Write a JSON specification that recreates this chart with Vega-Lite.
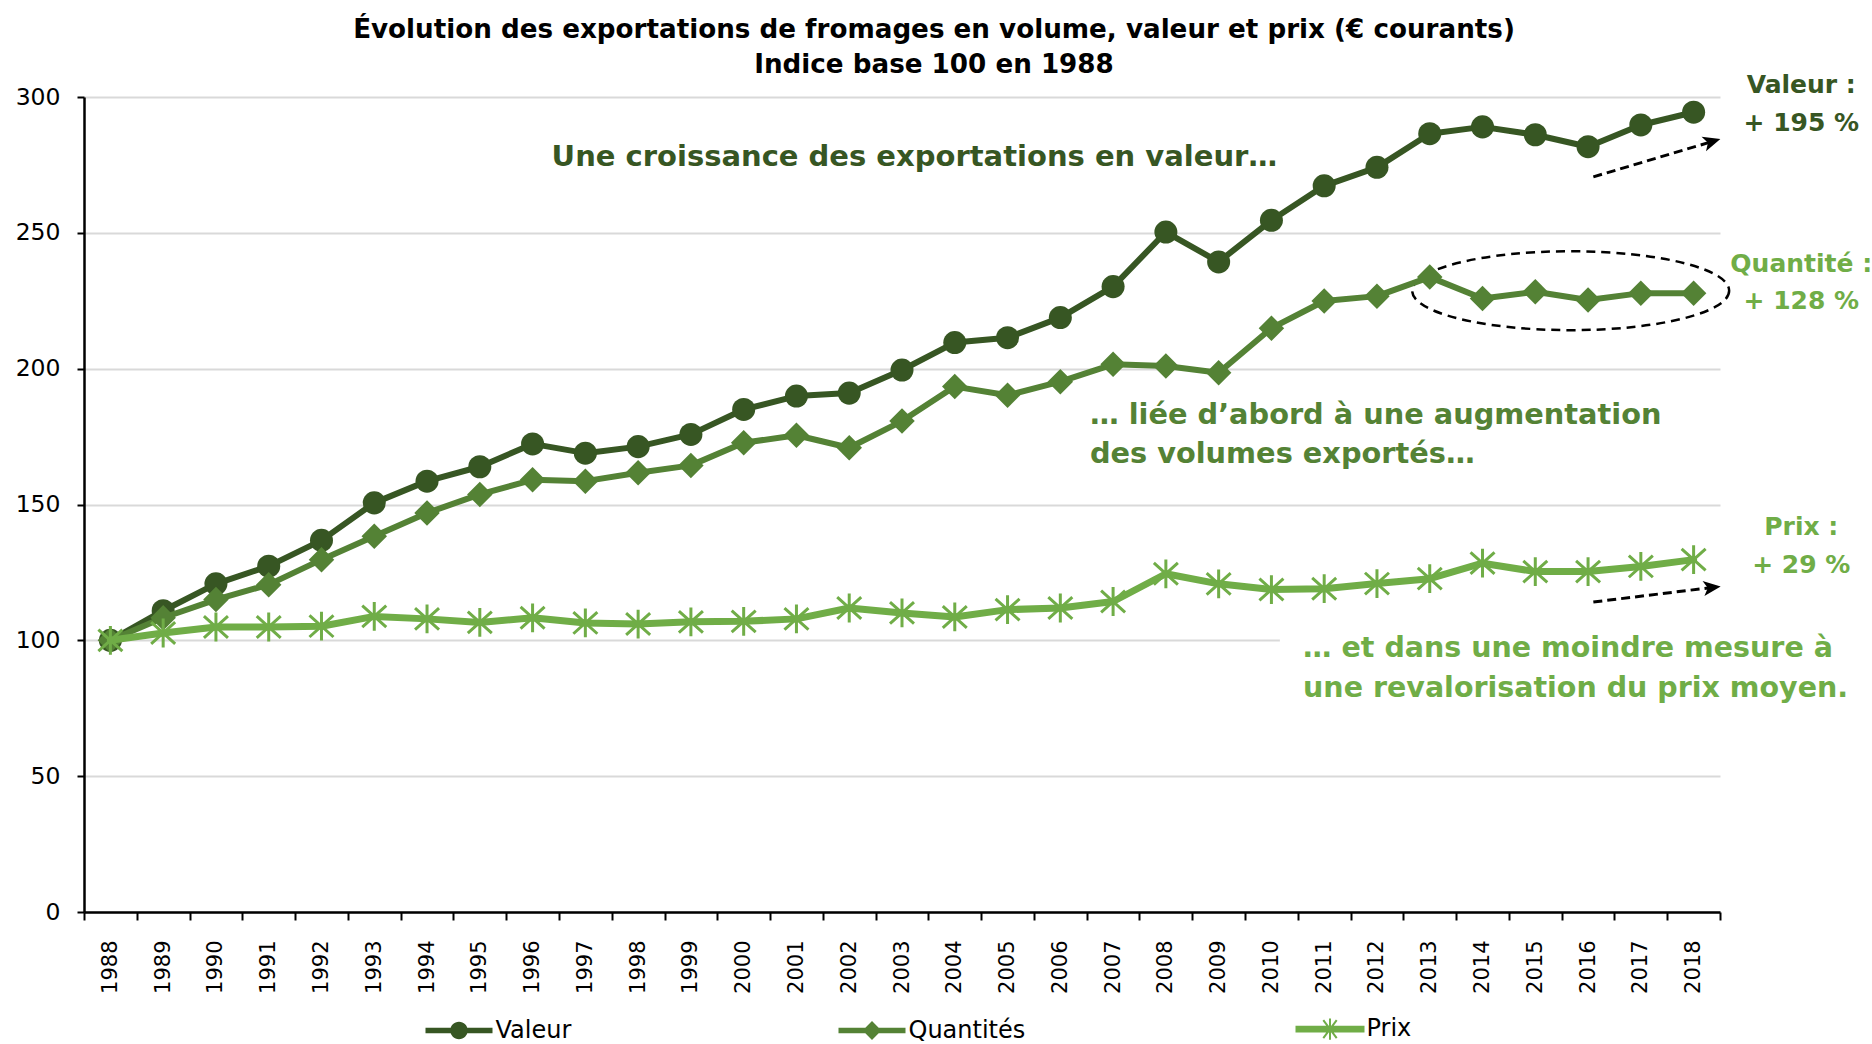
{
  "$schema": "https://vega.github.io/schema/vega-lite/v6.json",
  "width": 1636,
  "height": 815,
  "autosize": {"type": "none"},
  "padding": {"left": 84, "top": 97, "right": 152, "bottom": 132},
  "background": "white",
  "config": {
    "view": {"stroke": null},
    "font": "DejaVu Sans",
    "axisX": {"tickBand": "extent", "grid": false, "domainColor": "#000000", "domainWidth": 2.5, "tickColor": "#000000", "tickWidth": 2, "tickSize": 8, "labelAngle": 270, "labelFont": "DejaVu Sans", "labelFontSize": 21, "labelColor": "#000000", "labelPadding": 20, "title": null},
    "axisY": {"grid": true, "gridColor": "#D9D9D9", "gridWidth": 2, "domainColor": "#000000", "domainWidth": 2.5, "tickColor": "#000000", "tickWidth": 2, "tickSize": 7, "labelFont": "DejaVu Sans", "labelFontSize": 23.5, "labelColor": "#000000", "labelPadding": 17, "title": null}
  },
  "title": {
    "text": ["Évolution des exportations de fromages en volume, valeur et prix (€ courants)", "Indice base 100 en 1988"],
    "font": "DejaVu Sans", "fontSize": 26.2, "fontWeight": "bold", "color": "#000000",
    "lineHeight": 35, "anchor": "middle", "frame": "group", "dx": 32, "offset": -5
  },
  "datasets": {
    "series": [
      {"annee": 1988, "serie": "Valeur", "v": 100}, {"annee": 1989, "serie": "Valeur", "v": 110.9}, {"annee": 1990, "serie": "Valeur", "v": 120.8}, {"annee": 1991, "serie": "Valeur", "v": 127.3}, {"annee": 1992, "serie": "Valeur", "v": 136.8}, {"annee": 1993, "serie": "Valeur", "v": 150.6}, {"annee": 1994, "serie": "Valeur", "v": 158.6}, {"annee": 1995, "serie": "Valeur", "v": 163.9}, {"annee": 1996, "serie": "Valeur", "v": 172.3}, {"annee": 1997, "serie": "Valeur", "v": 168.9}, {"annee": 1998, "serie": "Valeur", "v": 171.3}, {"annee": 1999, "serie": "Valeur", "v": 175.8}, {"annee": 2000, "serie": "Valeur", "v": 185}, {"annee": 2001, "serie": "Valeur", "v": 189.9}, {"annee": 2002, "serie": "Valeur", "v": 191}, {"annee": 2003, "serie": "Valeur", "v": 199.5}, {"annee": 2004, "serie": "Valeur", "v": 209.6}, {"annee": 2005, "serie": "Valeur", "v": 211.4}, {"annee": 2006, "serie": "Valeur", "v": 218.8}, {"annee": 2007, "serie": "Valeur", "v": 230.2}, {"annee": 2008, "serie": "Valeur", "v": 250.3}, {"annee": 2009, "serie": "Valeur", "v": 239.3}, {"annee": 2010, "serie": "Valeur", "v": 254.6}, {"annee": 2011, "serie": "Valeur", "v": 267.3}, {"annee": 2012, "serie": "Valeur", "v": 274.1}, {"annee": 2013, "serie": "Valeur", "v": 286.5}, {"annee": 2014, "serie": "Valeur", "v": 289}, {"annee": 2015, "serie": "Valeur", "v": 286.1}, {"annee": 2016, "serie": "Valeur", "v": 281.7}, {"annee": 2017, "serie": "Valeur", "v": 289.7}, {"annee": 2018, "serie": "Valeur", "v": 294.4},
      {"annee": 1988, "serie": "Quantités", "v": 100}, {"annee": 1989, "serie": "Quantités", "v": 108.3}, {"annee": 1990, "serie": "Quantités", "v": 115}, {"annee": 1991, "serie": "Quantités", "v": 120.5}, {"annee": 1992, "serie": "Quantités", "v": 129.7}, {"annee": 1993, "serie": "Quantités", "v": 138.3}, {"annee": 1994, "serie": "Quantités", "v": 146.9}, {"annee": 1995, "serie": "Quantités", "v": 153.7}, {"annee": 1996, "serie": "Quantités", "v": 159.1}, {"annee": 1997, "serie": "Quantités", "v": 158.6}, {"annee": 1998, "serie": "Quantités", "v": 161.7}, {"annee": 1999, "serie": "Quantités", "v": 164.4}, {"annee": 2000, "serie": "Quantités", "v": 172.7}, {"annee": 2001, "serie": "Quantités", "v": 175.5}, {"annee": 2002, "serie": "Quantités", "v": 170.9}, {"annee": 2003, "serie": "Quantités", "v": 180.7}, {"annee": 2004, "serie": "Quantités", "v": 193.4}, {"annee": 2005, "serie": "Quantités", "v": 190.2}, {"annee": 2006, "serie": "Quantités", "v": 195.2}, {"annee": 2007, "serie": "Quantités", "v": 201.6}, {"annee": 2008, "serie": "Quantités", "v": 201}, {"annee": 2009, "serie": "Quantités", "v": 198.5}, {"annee": 2010, "serie": "Quantités", "v": 214.9}, {"annee": 2011, "serie": "Quantités", "v": 224.9}, {"annee": 2012, "serie": "Quantités", "v": 226.7}, {"annee": 2013, "serie": "Quantités", "v": 233.7}, {"annee": 2014, "serie": "Quantités", "v": 225.8}, {"annee": 2015, "serie": "Quantités", "v": 228.3}, {"annee": 2016, "serie": "Quantités", "v": 225.3}, {"annee": 2017, "serie": "Quantités", "v": 227.8}, {"annee": 2018, "serie": "Quantités", "v": 227.8},
      {"annee": 1988, "serie": "Prix", "v": 100}, {"annee": 1989, "serie": "Prix", "v": 102.7}, {"annee": 1990, "serie": "Prix", "v": 104.9}, {"annee": 1991, "serie": "Prix", "v": 104.9}, {"annee": 1992, "serie": "Prix", "v": 105.2}, {"annee": 1993, "serie": "Prix", "v": 108.8}, {"annee": 1994, "serie": "Prix", "v": 107.9}, {"annee": 1995, "serie": "Prix", "v": 106.6}, {"annee": 1996, "serie": "Prix", "v": 108.3}, {"annee": 1997, "serie": "Prix", "v": 106.4}, {"annee": 1998, "serie": "Prix", "v": 106}, {"annee": 1999, "serie": "Prix", "v": 106.8}, {"annee": 2000, "serie": "Prix", "v": 107}, {"annee": 2001, "serie": "Prix", "v": 107.9}, {"annee": 2002, "serie": "Prix", "v": 111.9}, {"annee": 2003, "serie": "Prix", "v": 110.1}, {"annee": 2004, "serie": "Prix", "v": 108.6}, {"annee": 2005, "serie": "Prix", "v": 111.3}, {"annee": 2006, "serie": "Prix", "v": 111.9}, {"annee": 2007, "serie": "Prix", "v": 114.3}, {"annee": 2008, "serie": "Prix", "v": 124.5}, {"annee": 2009, "serie": "Prix", "v": 120.8}, {"annee": 2010, "serie": "Prix", "v": 118.7}, {"annee": 2011, "serie": "Prix", "v": 119}, {"annee": 2012, "serie": "Prix", "v": 120.9}, {"annee": 2013, "serie": "Prix", "v": 122.7}, {"annee": 2014, "serie": "Prix", "v": 128.4}, {"annee": 2015, "serie": "Prix", "v": 125.3}, {"annee": 2016, "serie": "Prix", "v": 125.3}, {"annee": 2017, "serie": "Prix", "v": 127.2}, {"annee": 2018, "serie": "Prix", "v": 129.7}
    ]
  },
  "layer": [
    {
      "encoding": {
        "x": {"field": "x", "type": "quantitative", "scale": {"domain": [1987.5, 2018.5], "nice": false, "zero": false}, "axis": null},
        "y": {"field": "v", "type": "quantitative", "scale": {"domain": [0, 300], "nice": false}, "title": null}
      },
      "layer": [
        {
          "data": {"values": [{"x": 2010.16, "x2": 2019, "v": 96, "v2": 104}]},
          "mark": {"type": "rect", "fill": "white"},
          "encoding": {"x2": {"field": "x2"}, "y2": {"field": "v2"}}
        },
        {
          "data": {"values": [{"x": 1996.36, "v": 278, "t": "Une croissance des exportations en valeur…"}]},
          "mark": {"type": "text", "align": "left", "baseline": "middle", "font": "DejaVu Sans", "fontWeight": "bold", "fontSize": 29, "color": "#375623"},
          "encoding": {"text": {"field": "t"}}
        },
        {
          "data": {"values": [{"x": 2006.56, "v": 183, "t": "… liée d’abord à une augmentation"}, {"x": 2006.56, "v": 168.5, "t": "des volumes exportés…"}]},
          "mark": {"type": "text", "align": "left", "baseline": "middle", "font": "DejaVu Sans", "fontWeight": "bold", "fontSize": 28.8, "color": "#548235"},
          "encoding": {"text": {"field": "t"}}
        },
        {
          "data": {"values": [{"x": 2010.6, "v": 97.1, "t": "… et dans une moindre mesure à"}, {"x": 2010.6, "v": 82.6, "t": "une revalorisation du prix moyen."}]},
          "mark": {"type": "text", "align": "left", "baseline": "middle", "font": "DejaVu Sans", "fontWeight": "bold", "fontSize": 28.5, "color": "#70AD47"},
          "encoding": {"text": {"field": "t"}}
        },
        {
          "data": {"values": [{"x": 2020.04, "v": 304.3, "t": "Valeur :"}, {"x": 2020.04, "v": 290.4, "t": "+ 195 %"}]},
          "mark": {"type": "text", "align": "center", "baseline": "middle", "font": "DejaVu Sans", "fontWeight": "bold", "fontSize": 25, "color": "#375623"},
          "encoding": {"text": {"field": "t"}}
        },
        {
          "data": {"values": [{"x": 2020.04, "v": 238.4, "t": "Quantité :"}, {"x": 2020.04, "v": 224.9, "t": "+ 128 %"}, {"x": 2020.04, "v": 141.9, "t": "Prix :"}, {"x": 2020.04, "v": 127.9, "t": "+ 29 %"}]},
          "mark": {"type": "text", "align": "center", "baseline": "middle", "font": "DejaVu Sans", "fontWeight": "bold", "fontSize": 25, "color": "#70AD47"},
          "encoding": {"text": {"field": "t"}}
        },
        {
          "data": {"values": [{"x": 2015.67, "v": 228.7}]},
          "mark": {"type": "point", "shape": "M1,0A1,0.249 0 1,1 -1,0A1,0.249 0 1,1 1,0Z", "size": 100489, "filled": false, "stroke": "#000000", "strokeWidth": 2.5, "strokeDash": [9, 6], "opacity": 1}
        },
        {
          "data": {"values": [{"x": 2016.1, "v": 270.6, "g": "a"}, {"x": 2018.35, "v": 283.6, "g": "a"}, {"x": 2016.1, "v": 114.1, "g": "b"}, {"x": 2018.35, "v": 119.45, "g": "b"}]},
          "mark": {"type": "line", "color": "#000000", "strokeWidth": 3, "strokeDash": [9, 5]},
          "encoding": {"detail": {"field": "g"}}
        },
        {
          "data": {"values": [{"x": 2018.35, "v": 283.6}]},
          "mark": {"type": "point", "shape": "M1,0L-1,-0.88L-0.5,0L-1,0.88Z", "size": 300, "filled": true, "color": "#000000", "opacity": 1, "angle": -17}
        },
        {
          "data": {"values": [{"x": 2018.35, "v": 119.45}]},
          "mark": {"type": "point", "shape": "M1,0L-1,-0.88L-0.5,0L-1,0.88Z", "size": 300, "filled": true, "color": "#000000", "opacity": 1, "angle": -7}
        }
      ]
    },
    {
      "data": {"name": "series"},
      "encoding": {
        "x": {"field": "annee", "type": "ordinal", "scale": {"type": "band", "paddingInner": 0, "paddingOuter": 0}, "title": null},
        "y": {"field": "v", "type": "quantitative", "scale": {"domain": [0, 300], "nice": false}, "axis": {"values": [0, 50, 100, 150, 200, 250, 300]}, "title": null}
      },
      "layer": [
        {
          "transform": [{"filter": "datum.serie === 'Valeur'"}],
          "mark": {"type": "line", "strokeWidth": 6, "strokeJoin": "round", "strokeCap": "round"},
          "encoding": {
            "color": {
              "field": "serie", "type": "nominal",
              "scale": {"domain": ["Valeur", "Quantités", "Prix"], "range": ["#375623", "#548235", "#70AD47"]},
              "legend": {
                "title": null, "orient": "none", "legendX": 363, "legendY": 920, "direction": "horizontal", "columns": 3,
                "columnPadding": 266, "padding": 0, "symbolSize": 4489, "symbolType": "circle",
                "labelFont": "DejaVu Sans", "labelFontSize": 24, "labelColor": "#000000", "labelOffset": 24.5, "labelLimit": 300,
                "encode": {
                  "symbols": {
                    "update": {
                      "shape": {"signal": "datum.value === 'Valeur' ? 'M-1,-0.08H1V0.08H-1Z M0.26,0A0.26,0.26 0 1,1 -0.26,0A0.26,0.26 0 1,1 0.26,0Z' : datum.value === 'Quantités' ? 'M-1,-0.08H1V0.08H-1Z M0,-0.28L0.28,0L0,0.28L-0.28,0Z' : 'M-1,-0.07H1V0.07H-1Z M-0.2,-0.27L0.2,0.27M0.2,-0.27L-0.2,0.27M0,-0.32V0.32'"},
                      "size": {"value": 4489},
                      "fill": {"signal": "scale('color', datum.value)"},
                      "stroke": {"signal": "scale('color', datum.value)"},
                      "strokeWidth": {"signal": "datum.value === 'Prix' ? 2 : 0"},
                      "fillOpacity": {"value": 1},
                      "opacity": {"value": 1}
                    }
                  }
                }
              }
            }
          }
        },
        {
          "transform": [{"filter": "datum.serie === 'Valeur'"}],
          "mark": {"type": "point", "shape": "circle", "size": 530, "filled": true, "color": "#375623", "opacity": 1}
        },
        {
          "transform": [{"filter": "datum.serie === 'Quantités'"}],
          "mark": {"type": "line", "strokeWidth": 6, "strokeJoin": "round", "strokeCap": "round"},
          "encoding": {"color": {"field": "serie", "type": "nominal"}}
        },
        {
          "transform": [{"filter": "datum.serie === 'Quantités'"}],
          "mark": {"type": "point", "shape": "diamond", "size": 650, "filled": true, "color": "#548235", "opacity": 1}
        },
        {
          "transform": [{"filter": "datum.serie === 'Prix'"}],
          "mark": {"type": "line", "strokeWidth": 7, "strokeJoin": "round", "strokeCap": "round"},
          "encoding": {"color": {"field": "serie", "type": "nominal"}}
        },
        {
          "transform": [{"filter": "datum.serie === 'Prix'"}],
          "mark": {"type": "point", "shape": "M-1,-0.9L1,0.9M-1,0.9L1,-0.9M0,-1.2V1.2", "size": 576, "filled": false, "stroke": "#70AD47", "strokeWidth": 3, "opacity": 1}
        }
      ]
    }
  ],
  "resolve": {"scale": {"x": "independent"}}
}
